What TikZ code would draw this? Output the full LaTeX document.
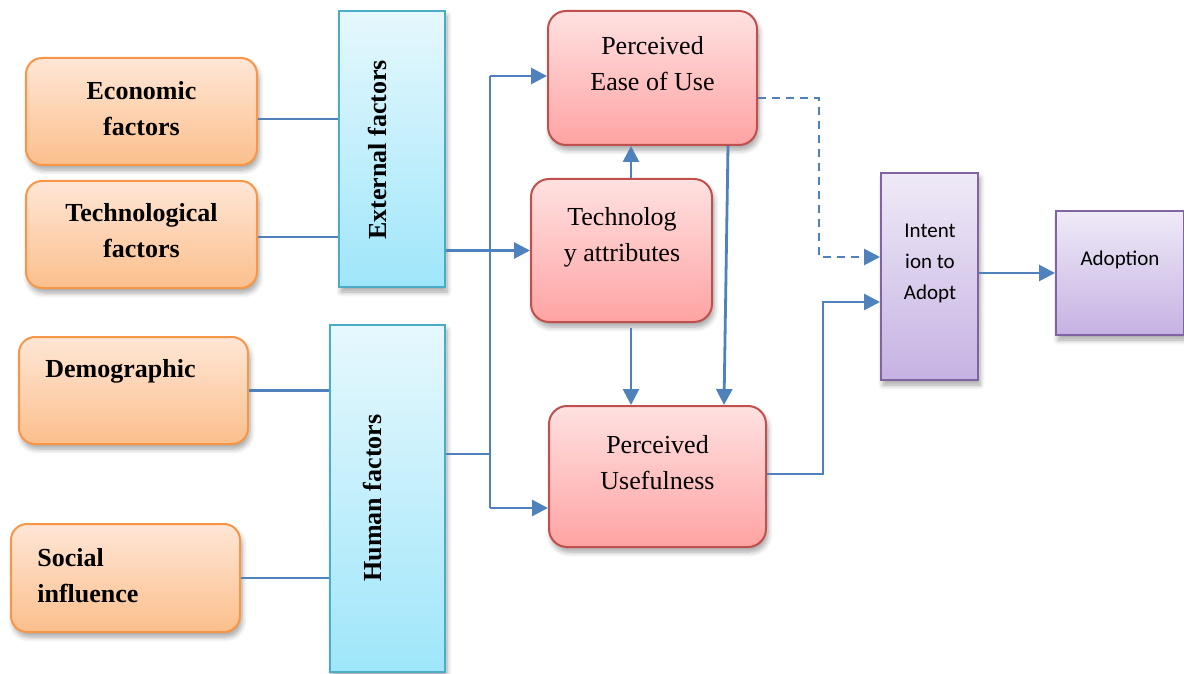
\documentclass[tikz,border=0pt]{standalone}
\usepackage{fontspec}
\setmainfont{Liberation Serif}
\newfontfamily\calibri{Carlito}
\usetikzlibrary{arrows.meta,shadows.blur,calc}

\definecolor{linkblue}{HTML}{4F81BD}
\definecolor{orangeline}{HTML}{F79646}
\definecolor{orangetop}{HTML}{FFE6D6}
\definecolor{orangebot}{HTML}{FBBF8C}
\definecolor{cyanline}{HTML}{4BACC6}
\definecolor{cyantop}{HTML}{E6F8FD}
\definecolor{cyanbot}{HTML}{9FE6FA}
\definecolor{redline}{HTML}{C0504D}
\definecolor{redtop}{HTML}{FFE1E1}
\definecolor{redbot}{HTML}{FFA3A3}
\definecolor{purpleline}{HTML}{8064A2}
\definecolor{purpletop}{HTML}{EFEAF7}
\definecolor{purplebot}{HTML}{C6B2E3}

\tikzset{
  softshadow/.style={blur shadow={shadow xshift=1pt,shadow yshift=-2.5pt,
      shadow blur steps=6,shadow blur radius=2.5pt,shadow opacity=35}},
  factorbox/.style={draw=orangeline,line width=1pt,rounded corners=8pt,
      top color=orangetop,bottom color=orangebot,softshadow},
  groupbox/.style={draw=cyanline,line width=1pt,
      top color=cyantop,bottom color=cyanbot,softshadow},
  constructbox/.style={draw=redline,line width=1pt,rounded corners=9pt,
      top color=redtop,bottom color=redbot,softshadow},
  outcomebox/.style={draw=purpleline,line width=1pt,
      top color=purpletop,bottom color=purplebot,softshadow},
  boldtxt/.style={font=\fontsize{13}{18}\selectfont\bfseries,align=center,inner sep=0pt},
  plaintxt/.style={font=\fontsize{13}{18}\selectfont,align=center,inner sep=0pt},
  sanstxt/.style={font=\calibri\fontsize{10.5}{15.5}\selectfont,align=center,inner sep=0pt},
  link/.style={draw=linkblue,line width=1.4pt},
  arrowlink/.style={link,-{Triangle[length=8pt,width=8pt]}},
}

\begin{document}
\begin{tikzpicture}[x=0.5pt,y=-0.5pt]
\useasboundingbox (0,0) rectangle (1184,674);

% factor boxes on the left
\node[factorbox,minimum width=115.5pt,minimum height=53.5pt] (eco) at (141.5,111.5) {};
\node[factorbox,minimum width=115.5pt,minimum height=53.5pt] (tec) at (141.5,234.5) {};
\node[factorbox,minimum width=114.5pt,minimum height=53.5pt] (dem) at (133.5,390.5) {};
\node[factorbox,minimum width=114.5pt,minimum height=54pt] (soc) at (125.5,578) {};

\node[boldtxt] (ecot) at (141.5,109) {Economic\\factors};
\node[boldtxt] (tect) at (141.5,230.5) {Technological\\factors};
\node[boldtxt,anchor=west] (demt) at (45,371) {Demographic};
\node[boldtxt,anchor=west,align=left] (soct) at (37,576) {Social\\influence};

% grouping bars
\node[groupbox,minimum width=53pt,minimum height=138pt] (ext) at (392,149) {};
\node[groupbox,minimum width=57.5pt,minimum height=173.5pt] (hum) at (387.5,498.5) {};
\node[boldtxt,rotate=90] (extt) at (377,150) {External factors};
\node[boldtxt,rotate=90] (humt) at (373,498) {Human factors};

% model constructs
\node[constructbox,minimum width=104.5pt,minimum height=67pt] (peou) at (652.5,78) {};
\node[constructbox,minimum width=90.5pt,minimum height=71.5pt] (ta) at (621.5,250.5) {};
\node[constructbox,minimum width=108.5pt,minimum height=70.5pt] (pu) at (657.5,476.5) {};
\node[plaintxt] (peout) at (652.5,64) {Perceived\\Ease of Use};
\node[plaintxt] (tat) at (622,237) {Technolog\\y attributes};
\node[plaintxt] (put) at (657.5,463) {Perceived\\Usefulness};

% outcome boxes
\node[outcomebox,minimum width=48.5pt,minimum height=103.5pt] (ita) at (929.5,276.5) {};
\node[outcomebox,minimum width=64pt,minimum height=62pt] (adp) at (1120,273) {};
\node[sanstxt] (itat) at (930,263) {Intent\\ion to\\Adopt};
\node[sanstxt] (adpt) at (1120,260) {Adoption};

% bus and bend points
\coordinate (bustop) at (490,76);
\coordinate (busmid) at (490,454);
\coordinate (busbot) at (490,508);
\coordinate (pubend) at (823,302);
\coordinate (dashbend) at (819,257);

% factors into the grouping bars
\draw[link] ([yshift=-3.75pt]eco.east) -- ([yshift=-3.75pt]eco.east -| ext.west);
\draw[link] ([yshift=-1.25pt]tec.east) -- ([yshift=-1.25pt]tec.east -| ext.west);
\draw[link] (dem.east) -- (dem.east -| hum.west);
\draw[link] (soc.east) -- (soc.east -| hum.west);

% grouping bars into the constructs
\draw[arrowlink] (ext.east |- ta.west) -- (ta.west);
\draw[link] (hum.east |- busmid) -- (busmid);
\draw[link] (bustop) -- (busbot);
\draw[arrowlink] (bustop) -- (peou.west |- bustop);
\draw[arrowlink] (busbot) -- (pu.west |- busbot);

% between the constructs
\draw[arrowlink] ([xshift=4.75pt]ta.north) -- ([xshift=4.75pt]ta.north |- peou.south);
\draw[arrowlink,shorten <=2.5pt] ([xshift=4.75pt]ta.south) -- ([xshift=4.75pt]ta.south |- pu.north);
\draw[arrowlink] ([xshift=37.75pt]peou.south) -- ([xshift=33.25pt]pu.north);

% into intention and adoption
\draw[arrowlink] ([yshift=1.25pt]pu.east) -| (pubend) -- (ita.west |- pubend);
\draw[arrowlink,dash pattern=on 4pt off 3pt] ([yshift=-10pt]peou.east) -| (dashbend) -- (ita.west |- dashbend);
\draw[arrowlink] (ita.east |- adp.west) -- (adp.west);
\end{tikzpicture}
\end{document}
